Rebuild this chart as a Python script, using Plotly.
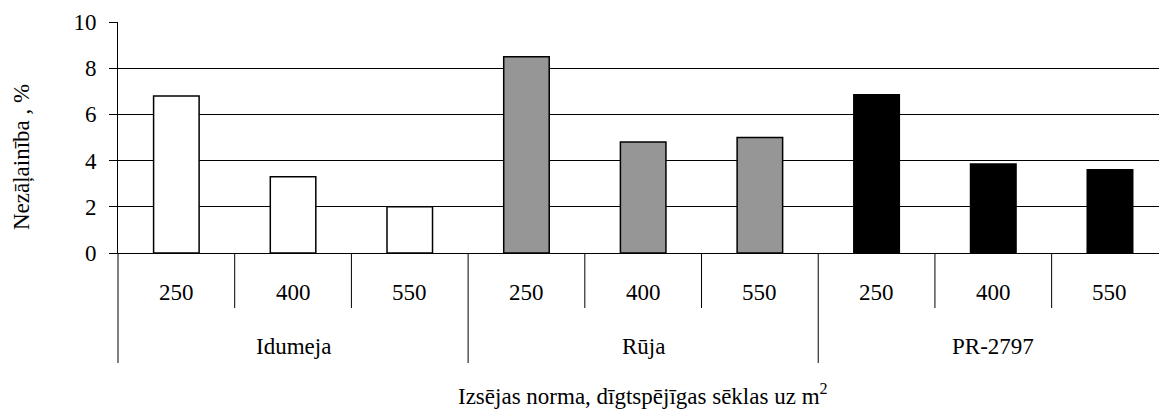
import plotly.graph_objects as go

# ---- data ----
varieties = ["Idumeja", "Rūja", "PR-2797"]
rates = ["250", "400", "550"]
idumeja = [6.8, 3.3, 2.0]
ruja = [8.5, 4.8, 5.0]
pr2797 = [6.85, 3.85, 3.6]
y_ticks = [0, 2, 4, 6, 8, 10]
y_title = "Nezāļainība , %"
x_title = "Izsējas norma, dīgtspējīgas sēklas uz m<sup>2</sup>"

series = [idumeja, ruja, pr2797]
colors = ["#ffffff", "#969696", "#000000"]
FONT = "Times New Roman, Liberation Serif, DejaVu Serif, serif"
FS = 23

fig = go.Figure()
n_r = len(rates)
for g, (name, vals, col) in enumerate(zip(varieties, series, colors)):
    xs = [g * n_r + r for r in range(n_r)]
    fig.add_trace(go.Bar(
        x=xs, y=vals, name=name, width=0.39,
        marker=dict(color=col, line=dict(color="#000000", width=1.5)),
        showlegend=False, hoverinfo="skip",
    ))

# geometry (paper coords, plot area 253 px bottom, 231 px tall)
short_bottom = -0.238
long_bottom = -0.476
shapes = []
n_cat = len(varieties) * n_r
for b in range(1, n_cat):
    bottom = long_bottom if b % n_r == 0 else short_bottom
    shapes.append(dict(type="line", xref="x", yref="paper",
                       x0=b - 0.5, x1=b - 0.5, y0=0, y1=bottom,
                       line=dict(color="#000000", width=1)))
shapes.append(dict(type="line", xref="paper", yref="paper",
                   x0=0, x1=0, y0=0, y1=long_bottom,
                   line=dict(color="#000000", width=1)))

annotations = []
for g, name in enumerate(varieties):
    for r, lab in enumerate(rates):
        annotations.append(dict(x=g * n_r + r, y=-0.172, xref="x", yref="paper",
                                text=lab, showarrow=False, yanchor="middle",
                                font=dict(family=FONT, size=FS, color="#000000")))
    annotations.append(dict(x=g * n_r + (n_r - 1) / 2, y=-0.405, xref="x", yref="paper",
                            text=name, showarrow=False, yanchor="middle",
                            font=dict(family=FONT, size=FS, color="#000000")))
annotations.append(dict(x=4, y=-0.685, xref="x", yref="paper", text=x_title,
                        showarrow=False, yanchor="bottom",
                        font=dict(family=FONT, size=FS, color="#000000")))
annotations.append(dict(x=-0.0922, y=0.4156, xref="paper", yref="paper", text=y_title,
                        showarrow=False, textangle=-90, xanchor="center", yanchor="middle",
                        font=dict(family=FONT, size=FS, color="#000000")))

fig.update_layout(
    width=1159, height=412,
    margin=dict(l=118, r=0, t=22, b=159),
    paper_bgcolor="#ffffff", plot_bgcolor="#ffffff",
    font=dict(family=FONT, size=FS, color="#000000"),
    bargap=0.6,
    shapes=shapes, annotations=annotations,
    xaxis=dict(range=[-0.5, 8.42], showgrid=False, showticklabels=False, zeroline=False,
               showline=True, linecolor="#000000", linewidth=1, ticks=""),
    yaxis=dict(range=[0, 10], tickvals=y_ticks, ticks="outside", ticklen=8,
               tickcolor="#000000", tickwidth=1, showline=True, linecolor="#000000",
               linewidth=1, showgrid=True, gridcolor="#000000", gridwidth=1,
               zeroline=False, ticklabelstandoff=8,
               tickfont=dict(family=FONT, size=FS, color="#000000")),
)

fig.write_html("out.html", config={"displayModeBar": False},
               post_script="document.body.style.margin='0px';document.body.style.overflow='hidden';")
